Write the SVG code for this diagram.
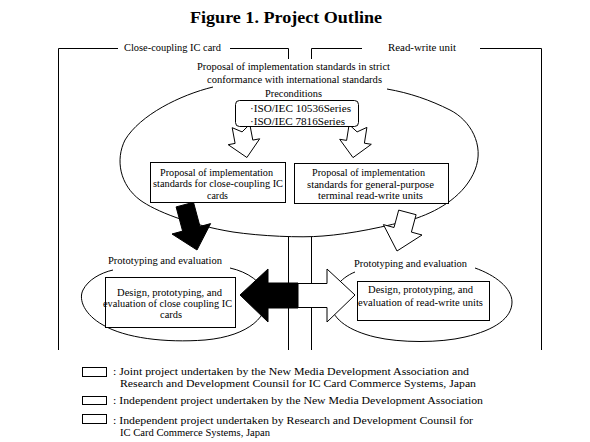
<svg xmlns="http://www.w3.org/2000/svg" width="590" height="442" viewBox="0 0 590 442">
<style>
.ln{fill:none;stroke:#000;stroke-width:1}
.bx{fill:#fff;stroke:#000;stroke-width:1}
.wa{fill:#fff;stroke:#000;stroke-width:1;stroke-linejoin:miter}
.ba{fill:#000;stroke:#000;stroke-width:1}
text{font-family:"Liberation Serif","Times New Roman",serif;font-size:10px;fill:#000}
.t{font-size:16px;font-weight:bold}
.lg{font-size:10.8px}
</style>
<rect width="590" height="442" fill="#fff"/>
<text class="t" x="190" y="23" textLength="192" lengthAdjust="spacingAndGlyphs">Figure 1. Project Outline</text>

<g id="connectors">
  <polyline class="ln" points="58.5,350 58.5,48.5 118,48.5"/>
  <polyline class="ln" points="230,48.5 288.5,48.5 288.5,59"/>
  <polyline class="ln" points="311.5,59 311.5,48.5 362,48.5"/>
  <polyline class="ln" points="480,48.5 541.5,48.5 541.5,350"/>
  <line class="ln" x1="288.5" y1="237" x2="288.5" y2="350"/>
  <line class="ln" x1="311.5" y1="237" x2="311.5" y2="350"/>
  <polygon id="arrow-up-left" class="wa" points="232.2,127.7 242.1,131.9 249.8,124.3 252.8,140.1 259.7,138.8 246.9,157.5 228.2,144.7 235.1,143.4"/>
  <polygon id="arrow-up-right" class="wa" points="349.1,124.6 357.1,131.9 366.9,127.4 364.4,143.2 371.3,144.3 353,157.6 339.7,139.3 346.6,140.4"/>
</g>

<g id="outline-ellipse">
  <path class="ln" d="M387,89 C410,93 430,100 450,110 C470,120 485,145 475,170 C465,195 440,210 417,218 C385,227 350,234 323,236 C300,238 260,236 233,232 C190,225 155,211 140,200 C120,185 115,160 125,140 C140,115 180,95 213,87"/>
</g>

<g id="left-proto-ellipse">
  <path class="ln" d="M230,268 C248,272 262,282 266,295 C270,315 250,336 205,340 C165,343 125,338 103,325 C85,315 78,300 83,290 C88,280 100,273 113,270"/>
</g>
<g id="right-proto-ellipse">
  <path class="ln" d="M475,268 C495,275 512,288 512,302 C512,318 495,330 465,337 C440,343 400,343 375,337 C350,331 333,320 331,305 C329,292 340,278 355,272"/>
</g>

<g id="arrows">
  <polygon id="arrow-black-down" class="ba" points="176.1,206.9 193.5,202.3 200,226.5 210.6,223.6 197,250 172,234 182.6,231.1"/>
  <polygon id="arrow-white-down" class="wa" points="398.7,210.1 416.1,214.7 411.4,232.1 422,235 397,251 383.4,224.6 394,227.5"/>
  <polygon id="arrow-black-left" class="ba" points="240,295 268,269 268,283 298,283 298,308 268,308 268,322"/>
  <polygon id="arrow-white-right" class="wa" points="298,283.5 327,283.5 327,269 355,295 327,322 327,307.5 298,307.5"/>
</g>

<g id="label-close-coupling">
  <text x="124" y="51" textLength="97" lengthAdjust="spacingAndGlyphs">Close-coupling IC card</text>
</g>
<g id="label-read-write">
  <text x="388" y="51" textLength="68" lengthAdjust="spacingAndGlyphs">Read-write unit</text>
</g>
<g id="title-proposal">
  <text x="197" y="69.5" textLength="193" lengthAdjust="spacingAndGlyphs">Proposal of implementation standards in strict</text>
  <text x="207" y="82.5" textLength="175" lengthAdjust="spacingAndGlyphs">conformance with international standards</text>
  <text x="265" y="97" textLength="57" lengthAdjust="spacingAndGlyphs">Preconditions</text>
</g>
<g id="node-preconditions">
  <rect class="bx" x="235.5" y="100.5" width="123" height="26" rx="4"/>
  <text x="250" y="111.5" textLength="101" lengthAdjust="spacingAndGlyphs">·ISO/IEC 10536Series</text>
  <text x="250" y="124.5" textLength="95" lengthAdjust="spacingAndGlyphs">·ISO/IEC 7816Series</text>
</g>
<g id="node-proposal-card">
  <rect class="bx" x="150.5" y="162.5" width="135" height="40"/>
  <text x="160" y="175.5" textLength="113" lengthAdjust="spacingAndGlyphs">Proposal of implementation</text>
  <text x="153" y="187" textLength="130" lengthAdjust="spacingAndGlyphs">standards for close-coupling IC</text>
  <text x="207" y="198.5" textLength="21" lengthAdjust="spacingAndGlyphs">cards</text>
</g>
<g id="node-proposal-rw">
  <rect class="bx" x="294.5" y="163.5" width="154" height="40"/>
  <text x="312" y="175.5" textLength="113" lengthAdjust="spacingAndGlyphs">Proposal of implementation</text>
  <text x="307" y="187.5" textLength="127" lengthAdjust="spacingAndGlyphs">standards for general-purpose</text>
  <text x="318" y="198.5" textLength="105" lengthAdjust="spacingAndGlyphs">terminal read-write units</text>
</g>
<g id="label-proto-left">
  <text x="108" y="263.5" textLength="114" lengthAdjust="spacingAndGlyphs">Prototyping and evaluation</text>
</g>
<g id="label-proto-right">
  <text x="354" y="266.5" textLength="113" lengthAdjust="spacingAndGlyphs">Prototyping and evaluation</text>
</g>
<g id="node-design-card">
  <rect class="bx" x="105.5" y="277.5" width="130" height="50"/>
  <text x="117" y="295.5" textLength="105" lengthAdjust="spacingAndGlyphs">Design, prototyping, and</text>
  <text x="103" y="306.5" textLength="129" lengthAdjust="spacingAndGlyphs">evaluation of close coupling IC</text>
  <text x="160" y="317.5" textLength="22" lengthAdjust="spacingAndGlyphs">cards</text>
</g>
<g id="node-design-rw">
  <rect class="bx" x="357.5" y="281.5" width="132" height="39"/>
  <text x="368" y="292.5" textLength="105" lengthAdjust="spacingAndGlyphs">Design, prototyping, and</text>
  <text x="358" y="305.5" textLength="125" lengthAdjust="spacingAndGlyphs">evaluation of read-write units</text>
</g>

<g id="legend">
  <rect class="bx" x="82.5" y="367.5" width="24" height="9"/>
  <rect class="bx" x="82.5" y="396.5" width="24" height="8"/>
  <rect class="bx" x="82.5" y="414.5" width="24" height="9"/>
  <text class="lg" x="113" y="374.5" textLength="356" lengthAdjust="spacingAndGlyphs">: Joint project undertaken by the New Media Development Association and</text>
  <text class="lg" x="120" y="386.5" textLength="356" lengthAdjust="spacingAndGlyphs">Research and Development Counsil for IC Card Commerce Systems, Japan</text>
  <text class="lg" x="113" y="403.5" textLength="370" lengthAdjust="spacingAndGlyphs">: Independent project undertaken by the New Media Development Association</text>
  <text class="lg" x="113" y="423.5" textLength="360" lengthAdjust="spacingAndGlyphs">: Independent project undertaken by Research and Development Counsil for</text>
  <text class="lg" x="120" y="436" textLength="150" lengthAdjust="spacingAndGlyphs">IC Card Commerce Systems, Japan</text>
</g>
</svg>
